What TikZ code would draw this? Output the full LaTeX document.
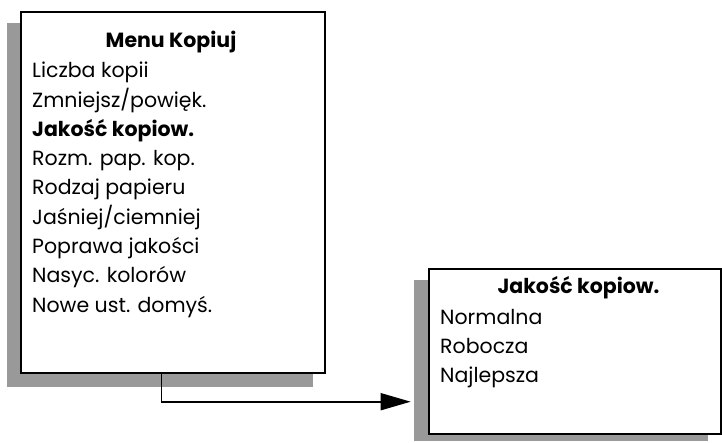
\documentclass[tikz,border=0pt]{standalone}
\usepackage{fontspec}
\setmainfont{Poppins}
\usetikzlibrary{arrows.meta}
\definecolor{shadowgray}{RGB}{153,153,153}
\newcommand{\menufont}{\fontsize{20.5}{20.5}\selectfont}
\tikzset{
  menubox/.style={draw=black, line width=1.8pt, fill=white, inner sep=0pt, anchor=north west},
  shadowbox/.style={fill=shadowgray, draw=none, inner sep=0pt, anchor=north west},
  item/.style={inner sep=0pt, anchor=base west, font=\menufont},
  bolditem/.style={inner sep=0pt, anchor=base west, font=\menufont\bfseries},
  title/.style={inner sep=0pt, anchor=base, font=\menufont\bfseries},
  link/.style={line width=1.6pt, -{Triangle[length=30pt, width=17pt]}}
}
\begin{document}
\begin{tikzpicture}[x=1pt, y=-1pt]
\useasboundingbox (0,0) rectangle (722,442);
% shadows
\node[shadowbox, minimum width=306pt, minimum height=364pt] (shadow1) at (7,23) {};
\node[shadowbox, minimum width=294pt, minimum height=161pt] (shadow2) at (414,280) {};
% boxes
\node[menubox, minimum width=304pt, minimum height=361pt] (box1) at (20,11) {};
\node[menubox, minimum width=292pt, minimum height=165pt] (box2) at (428,268) {};
% box 1 texts
\node[title] (t1) at (171,47.7) {Menu Kopiuj};
\node[item] (a1) at (32,77.7) {Liczba kopii};
\node[item] (a2) at (32,107.0) {Zmniejsz/powięk.};
\node[bolditem] (a3) at (32,136.3) {Jakość kopiow.};
\node[item] (a4) at (32,165.6) {Rozm. pap. kop.};
\node[item] (a5) at (32,194.9) {Rodzaj papieru};
\node[item] (a6) at (32,224.2) {Jaśniej/ciemniej};
\node[item] (a7) at (32,253.5) {Poprawa jakości};
\node[item] (a8) at (32,282.8) {Nasyc. kolorów};
\node[item] (a9) at (32,312.1) {Nowe ust. domyś.};
% box 2 texts
\node[title] (t2) at (578.5,293.7) {Jakość kopiow.};
\node[item] (b1) at (440,324.5) {Normalna};
\node[item] (b2) at (440,353.5) {Robocza};
\node[item] (b3) at (440,382.5) {Najlepsza};
% connector
\coordinate (tip) at (410.7,401.7);
\draw[link] ([xshift=-11.3pt]box1.south) |- (tip);
\end{tikzpicture}
\end{document}
